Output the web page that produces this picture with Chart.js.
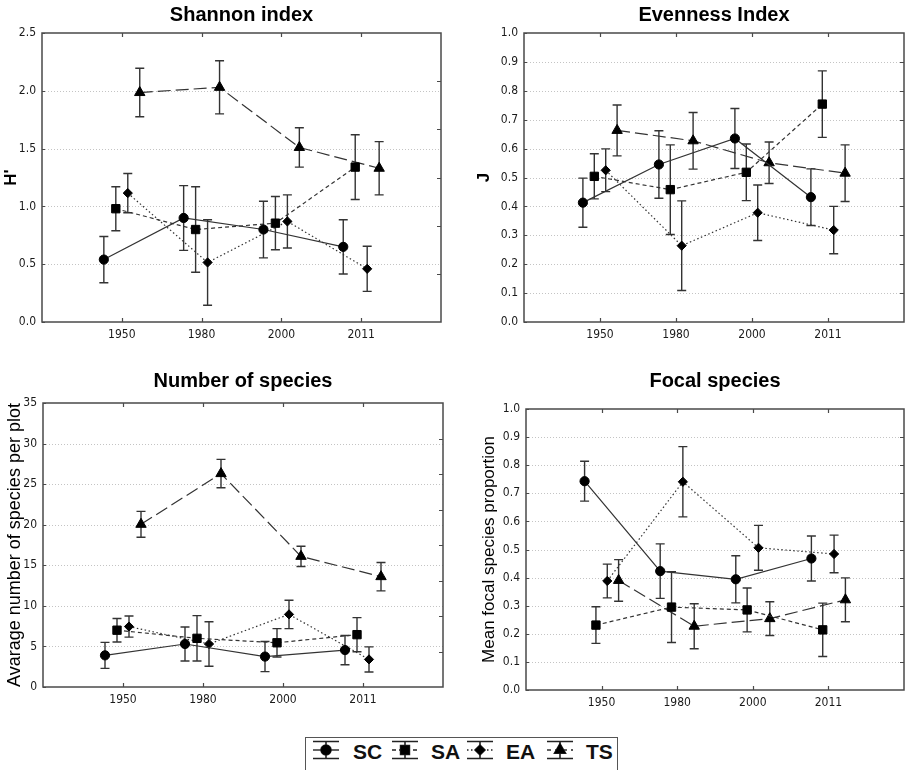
<!DOCTYPE html>
<html>
<head>
<meta charset="utf-8">
<script src="https://cdn.jsdelivr.net/npm/chart.js@4.4.1/dist/chart.umd.min.js"></script>
<style>
html,body{margin:0;padding:0;background:#fff;}
body{width:911px;height:770px;position:relative;overflow:hidden;font-family:"Liberation Sans",Arial,sans-serif;}
canvas.panel{position:absolute;}
#legend{position:absolute;left:305px;top:737px;width:311px;height:40px;border:1.5px solid #555;background:#fff;}
#legend canvas{position:absolute;top:0;}
#legend span{position:absolute;top:2px;font:bold 21px "Liberation Sans",Arial,sans-serif;line-height:24px;color:#111;}
</style>
</head>
<body>
<canvas id="c1" class="panel" width="455" height="350" style="left:0;top:0"></canvas>
<canvas id="c2" class="panel" width="456" height="350" style="left:455px;top:0"></canvas>
<canvas id="c3" class="panel" width="455" height="355" style="left:0;top:360px"></canvas>
<canvas id="c4" class="panel" width="456" height="358" style="left:455px;top:360px"></canvas>
<div id="legend">
  <canvas id="l0" width="28" height="24" style="left:6px"></canvas><span style="left:47px">SC</span>
  <canvas id="l1" width="28" height="24" style="left:85px"></canvas><span style="left:125px">SA</span>
  <canvas id="l2" width="28" height="24" style="left:160px"></canvas><span style="left:200px">EA</span>
  <canvas id="l3" width="28" height="24" style="left:240px"></canvas><span style="left:280px">TS</span>
</div>
<script>
// ---------- DATA ----------
const years = ['1950', '1980', '2000', '2011'];
const seriesNames = ['SC', 'SA', 'EA', 'TS'];

// Shannon index (H')
const shannonSC = [0.54, 0.90, 0.80, 0.65];
const shannonSCErr = [0.20, 0.28, 0.245, 0.235];
const shannonSA = [0.98, 0.80, 0.855, 1.34];
const shannonSAErr = [0.19, 0.37, 0.23, 0.28];
const shannonEA = [1.115, 0.515, 0.87, 0.46];
const shannonEAErr = [0.17, 0.37, 0.23, 0.195];
const shannonTS = [1.985, 2.03, 1.51, 1.33];
const shannonTSErr = [0.21, 0.23, 0.17, 0.23];

// Evenness index (J)
const evenSC = [0.413, 0.545, 0.635, 0.432];
const evenSCErr = [0.085, 0.117, 0.104, 0.098];
const evenSA = [0.504, 0.458, 0.518, 0.754];
const evenSAErr = [0.078, 0.155, 0.098, 0.115];
const evenEA = [0.525, 0.264, 0.378, 0.318];
const evenEAErr = [0.074, 0.155, 0.096, 0.082];
const evenTS = [0.663, 0.627, 0.551, 0.515];
const evenTSErr = [0.088, 0.098, 0.072, 0.098];

// Number of species
const richSC = [3.9, 5.3, 3.75, 4.55];
const richSCErr = [1.6, 2.1, 1.85, 1.8];
const richSA = [7.0, 6.0, 5.45, 6.45];
const richSAErr = [1.45, 2.8, 1.75, 2.1];
const richEA = [7.45, 5.3, 8.95, 3.4];
const richEAErr = [1.3, 2.75, 1.75, 1.55];
const richTS = [20.05, 26.3, 16.1, 13.6];
const richTSErr = [1.6, 1.75, 1.25, 1.75];

// Focal species proportion
const focalSC = [0.743, 0.423, 0.394, 0.468];
const focalSCErr = [0.071, 0.097, 0.084, 0.08];
const focalSA = [0.231, 0.295, 0.285, 0.214];
const focalSAErr = [0.065, 0.126, 0.078, 0.095];
const focalEA = [0.388, 0.741, 0.506, 0.484];
const focalEAErr = [0.06, 0.125, 0.08, 0.067];
const focalTS = [0.39, 0.227, 0.254, 0.321];
const focalTSErr = [0.074, 0.08, 0.06, 0.078];

// ---------- STYLE ----------
const seriesOffset = [-0.225, -0.075, 0.075, 0.225];
const seriesStyle = [
  {dash: [], point: 'circle', r: 4.6},
  {dash: [4, 3], point: 'rect', r: 5.9},
  {dash: [1.5, 2.5], point: 'rectRot', r: 4.6},
  {dash: [13, 5], point: 'triangle', r: 6}
];
const tickFont = {family: '"Liberation Sans Narrow","Arial Narrow","DejaVu Sans Condensed","Liberation Sans",sans-serif', size: 12};
const tickColor = '#1a1a1a';

const framePlugin = {
  id: 'frame',
  beforeDatasetsDraw(chart) {
    const {ctx, chartArea: a, scales: {x, y}} = chart;
    ctx.save();
    ctx.strokeStyle = '#c4c4c4';
    ctx.lineWidth = 1;
    ctx.setLineDash([1, 2]);
    y.ticks.forEach(t => {
      if (t.value <= y.min || t.value >= y.max) return;
      const py = Math.round(y.getPixelForValue(t.value)) + 0.5;
      ctx.beginPath(); ctx.moveTo(a.left, py); ctx.lineTo(a.right, py); ctx.stroke();
    });
    ctx.setLineDash([]);
    ctx.strokeStyle = '#333';
    ctx.lineWidth = 1.4;
    chart.data.datasets.forEach((ds) => {
      ds.data.forEach((p, j) => {
        const e = ds.errorBars[j];
        const px = x.getPixelForValue(p.x);
        const top = y.getPixelForValue(p.y + e);
        const bot = y.getPixelForValue(p.y - e);
        ctx.beginPath();
        ctx.moveTo(px, top); ctx.lineTo(px, bot);
        ctx.moveTo(px - 4.5, top); ctx.lineTo(px + 4.5, top);
        ctx.moveTo(px - 4.5, bot); ctx.lineTo(px + 4.5, bot);
        ctx.stroke();
      });
    });
    ctx.restore();
  },
  afterDatasetsDraw(chart, args, opts) {
    const {ctx, chartArea: a, scales: {x, y}} = chart;
    ctx.save();
    ctx.strokeStyle = '#4a4a4a';
    ctx.lineWidth = 1.5;
    ctx.strokeRect(a.left, a.top, a.right - a.left, a.bottom - a.top);
    ctx.beginPath();
    x.ticks.forEach(t => {
      const px = Math.round(x.getPixelForValue(t.value)) + 0.5;
      ctx.moveTo(px, a.bottom); ctx.lineTo(px, a.bottom - 4);
      ctx.moveTo(px, a.top); ctx.lineTo(px, a.top + 4);
    });
    y.ticks.forEach(t => {
      const py = Math.round(y.getPixelForValue(t.value)) + 0.5;
      ctx.moveTo(a.left, py); ctx.lineTo(a.left + 3, py);
    });
    const n = opts.rightDiv || 0;
    for (let k = 1; k < n; k++) {
      const py = Math.round(a.top + k * (a.bottom - a.top) / n) + 0.5;
      ctx.moveTo(a.right, py); ctx.lineTo(a.right - 4, py);
    }
    ctx.lineWidth = 1.2;
    ctx.stroke();
    ctx.restore();
  }
};

function buildDatasets(values, errs) {
  return values.map((vals, s) => ({
    label: seriesNames[s],
    data: vals.map((v, i) => ({x: i + 1 + seriesOffset[s], y: v})),
    errorBars: errs[s],
    borderColor: '#333',
    borderWidth: 1.2,
    borderDash: seriesStyle[s].dash,
    pointStyle: seriesStyle[s].point,
    pointRadius: seriesStyle[s].r,
    pointBackgroundColor: '#000',
    pointBorderColor: '#000',
    pointBorderWidth: 1,
    tension: 0,
    fill: false
  }));
}

function makeChart(id, p) {
  return new Chart(document.getElementById(id), {
    type: 'line',
    data: {datasets: buildDatasets(p.values, p.errs)},
    options: {
      responsive: false,
      animation: false,
      devicePixelRatio: 1,
      layout: {padding: {left: 0, right: p.padRight, top: 0, bottom: 0}},
      plugins: {
        legend: {display: false},
        tooltip: {enabled: false},
        title: {
          display: true, text: p.title, fullSize: false, color: '#000',
          font: {family: '"Liberation Sans",Arial,sans-serif', size: 20, weight: 'bold'},
          padding: p.titlePad
        },
        frame: {rightDiv: p.rightDiv}
      },
      scales: {
        x: {
          type: 'linear', min: 0, max: 5,
          afterBuildTicks: s => { s.ticks = years.map((_, i) => ({value: i + 1})); },
          ticks: {callback: v => years[Math.round(v) - 1], font: tickFont, color: tickColor, padding: 6, maxRotation: 0, autoSkip: false},
          grid: {display: false, drawTicks: false},
          border: {display: false},
          afterFit: s => { s.height = 28; }
        },
        y: {
          type: 'linear', min: p.yMin, max: p.yMax,
          ticks: {stepSize: p.step, callback: v => Number(v).toFixed(p.dec), font: tickFont, color: tickColor, padding: 6},
          grid: {display: false, drawTicks: false},
          border: {display: false},
          title: {display: true, text: p.yTitle, color: '#000', font: p.yTitleFont, padding: {top: p.yTitlePad, bottom: 0}},
          afterFit: s => { s.width = p.yW; }
        }
      }
    },
    plugins: [framePlugin]
  });
}

const fam = '"Liberation Sans",Arial,sans-serif';

makeChart('c1', {
  title: 'Shannon index', titlePad: {top: 3, bottom: 6},
  values: [shannonSC, shannonSA, shannonEA, shannonTS],
  errs: [shannonSCErr, shannonSAErr, shannonEAErr, shannonTSErr],
  yMin: 0, yMax: 2.5, step: 0.5, dec: 1,
  yTitle: "H'", yTitleFont: {family: fam, size: 17, weight: 'bold'}, yTitlePad: 1,
  yW: 42, padRight: 14, rightDiv: 6
});
makeChart('c2', {
  title: 'Evenness Index', titlePad: {top: 3, bottom: 6},
  values: [evenSC, evenSA, evenEA, evenTS],
  errs: [evenSCErr, evenSAErr, evenEAErr, evenTSErr],
  yMin: 0, yMax: 1, step: 0.1, dec: 1,
  yTitle: 'J', yTitleFont: {family: fam, size: 17, weight: 'bold'}, yTitlePad: 19,
  yW: 69, padRight: 1, rightDiv: 10
});
makeChart('c3', {
  title: 'Number of species', titlePad: {top: 9, bottom: 10},
  values: [richSC, richSA, richEA, richTS],
  errs: [richSCErr, richSAErr, richEAErr, richTSErr],
  yMin: 0, yMax: 35, step: 5, dec: 0,
  yTitle: 'Avarage number of species per plot', yTitleFont: {family: fam, size: 18}, yTitlePad: 4,
  yW: 43, padRight: 12, rightDiv: 8
});
makeChart('c4', {
  title: 'Focal species', titlePad: {top: 9, bottom: 16},
  values: [focalSC, focalSA, focalEA, focalTS],
  errs: [focalSCErr, focalSAErr, focalEAErr, focalTSErr],
  yMin: 0, yMax: 1, step: 0.1, dec: 1,
  yTitle: 'Mean focal species proportion', yTitleFont: {family: fam, size: 17}, yTitlePad: 24,
  yW: 71, padRight: 1, rightDiv: 10
});

// ---------- LEGEND SYMBOLS ----------
seriesNames.forEach((name, s) => {
  const cv = document.getElementById('l' + s);
  const ctx = cv.getContext('2d');
  const w = cv.width, cy = 12;
  ctx.strokeStyle = '#222';
  ctx.lineWidth = 1.6;
  ctx.beginPath();
  ctx.moveTo(1, 3.5); ctx.lineTo(w - 1, 3.5);
  ctx.moveTo(1, 20.5); ctx.lineTo(w - 1, 20.5);
  ctx.moveTo(w / 2, 3.5); ctx.lineTo(w / 2, 20.5);
  ctx.stroke();
  ctx.setLineDash(seriesStyle[s].dash.length ? seriesStyle[s].dash.map(d => Math.min(d, 4)) : []);
  ctx.lineWidth = 1.4;
  ctx.beginPath(); ctx.moveTo(1, cy); ctx.lineTo(w - 1, cy); ctx.stroke();
  ctx.setLineDash([]);
  ctx.fillStyle = '#000';
  Chart.helpers.drawPoint(ctx, {pointStyle: seriesStyle[s].point, radius: seriesStyle[s].r + 0.5, borderWidth: 1}, w / 2, cy);
  ctx.fill();
});
</script>
</body>
</html>
